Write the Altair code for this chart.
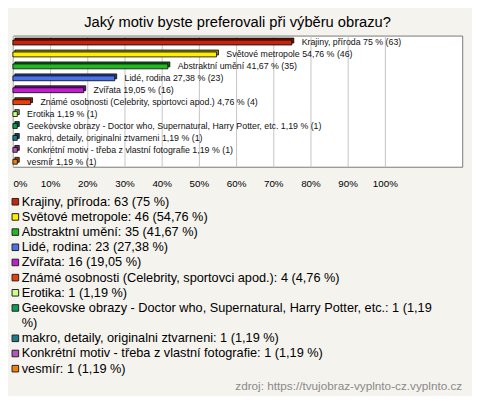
import textwrap
import altair as alt
import pandas as pd

# ---------------- data ----------------
categories = [
    "Krajiny, příroda",
    "Světové metropole",
    "Abstraktní umění",
    "Lidé, rodina",
    "Zvířata",
    "Známé osobnosti (Celebrity, sportovci apod.)",
    "Erotika",
    "Geekovske obrazy - Doctor who, Supernatural, Harry Potter, etc.",
    "makro, detaily, originalni ztvarneni",
    "Konkrétní motiv - třeba z vlastní fotografie",
    "vesmír",
]
counts = [63, 46, 35, 23, 16, 4, 1, 1, 1, 1, 1]
percents = [75, 54.76, 41.67, 27.38, 19.05, 4.76, 1.19, 1.19, 1.19, 1.19, 1.19]
tick_values = [0, 10, 20, 30, 40, 50, 60, 70, 80, 90, 100]
title_text = "Jaký motiv byste preferovali při výběru obrazu?"
source_text = "zdroj: https://tvujobraz-vyplnto-cz.vyplnto.cz"

# ---------------- styles ----------------
colors = ["#c8230c", "#ffee00", "#22b822", "#4a72e6", "#c01fd0", "#e6400c",
          "#ccff88", "#109a58", "#1f7a8a", "#b456bd", "#f08010"]
FONT = "Liberation Sans"
BG = "#f4f3ee"
ROW = 15.5          # legend line height
PLOT_W, PLOT_H = 459, 134


def darker(hex_color, f=0.6):
    h = hex_color.lstrip("#")
    r, g, b = (int(h[i:i + 2], 16) for i in (0, 2, 4))
    return "#%02x%02x%02x" % (int(r * f), int(g * f), int(b * f))


def fmt_pct(p):
    s = f"{p:.2f}".rstrip("0").rstrip(".")
    return s.replace(".", ",")


df = pd.DataFrame({
    "cat": categories,
    "pct": percents,
    "count": counts,
    "color": colors,
    "dark": [darker(c) for c in colors],
})
df["barlabel"] = [f"{c} {fmt_pct(p)} % ({n})" for c, p, n in zip(categories, percents, counts)]

# legend rows (wrapped like the original)
leg_rows = []
line = 0
for c, p, n, col in zip(categories, percents, counts, colors):
    label = f"{c}: {n} ({fmt_pct(p)} %)"
    parts = textwrap.wrap(label, 72)
    leg_rows.append({"line": line, "text": "\n".join(parts), "color": col})
    line += len(parts)
df_leg = pd.DataFrame(leg_rows)
n_lines = line

# ---------------- top chart ----------------
xscale = alt.Scale(domain=[0, 120.8], nice=False, zero=True)
yscale = alt.Scale(domain=categories, paddingInner=0, paddingOuter=0)

base = alt.Chart(df).encode(
    y=alt.Y("cat:N", sort=categories, scale=yscale, axis=None),
)

x_enc = alt.X(
    "pct:Q", scale=xscale, title=None,
    axis=alt.Axis(
        values=tick_values,
        labelExpr="datum.value + '%'",
        grid=True, gridColor="#c4c4c4", gridWidth=1,
        domain=False, ticks=False,
        labelPadding=12, labelFontSize=10, labelFont=FONT, labelColor="#000000",
        labelOverlap=False,
        labelAlign={"condition": {"test": "datum.value == 0", "value": "left"}, "value": "center"},
    ),
)

back = base.mark_bar(size=5, xOffset=2, x2Offset=2, yOffset=-1, y2Offset=-1,
                     stroke="black", strokeWidth=0.8).encode(
    x=x_enc, fill=alt.Fill("dark:N", scale=None))
front = base.mark_bar(size=5, yOffset=1, y2Offset=1,
                      stroke="black", strokeWidth=0.8).encode(
    x=x_enc, fill=alt.Fill("color:N", scale=None))
labels = base.mark_text(align="left", baseline="middle", dx=10, dy=1,
                        fontSize=9, font=FONT, color="#111111").encode(
    x=alt.X("pct:Q", scale=xscale), text="barlabel:N")

top = alt.layer(back, front, labels).properties(
    width=PLOT_W, height=PLOT_H,
    title=alt.TitleParams(title_text, fontSize=15, font=FONT, fontWeight="normal",
                          color="#000000", anchor="middle", offset=6),
    view=alt.ViewBackground(fill="white", stroke="#777777", strokeWidth=1),
)

# ---------------- legend chart ----------------
LEG_H = n_lines * ROW
lscale = alt.Scale(domain=[-0.5, n_lines - 0.5], reverse=True, nice=False, zero=False)

squares = alt.Chart(df_leg).mark_square(size=45, stroke="#222222", strokeWidth=1, opacity=1).encode(
    x=alt.value(2.5),
    y=alt.Y("line:Q", scale=lscale, axis=None),
    fill=alt.Fill("color:N", scale=None),
)
texts = alt.Chart(df_leg).mark_text(align="left", baseline="middle", fontSize=13, font=FONT,
                                    color="#000000", lineBreak="\n", lineHeight=ROW).encode(
    x=alt.value(9),
    y=alt.Y("line:Q", scale=lscale, axis=None),
    text="text:N",
)
source = alt.Chart(pd.DataFrame({"t": [source_text]})).mark_text(
    align="right", baseline="middle", fontSize=12, font=FONT, color="#8a8a8a").encode(
    x=alt.value(PLOT_W), y=alt.value(LEG_H + 10), text="t:N")

legend = alt.layer(squares, texts, source).properties(
    width=PLOT_W, height=LEG_H,
    view=alt.ViewBackground(strokeWidth=0),
)

chart = alt.vconcat(top, legend, spacing=5).properties(
    padding={"left": 2, "top": 2, "right": 9, "bottom": 0},
    background=BG,
).configure_view(strokeWidth=0)

chart.save("out.html", embed_options={"renderer": "svg", "actions": False})
